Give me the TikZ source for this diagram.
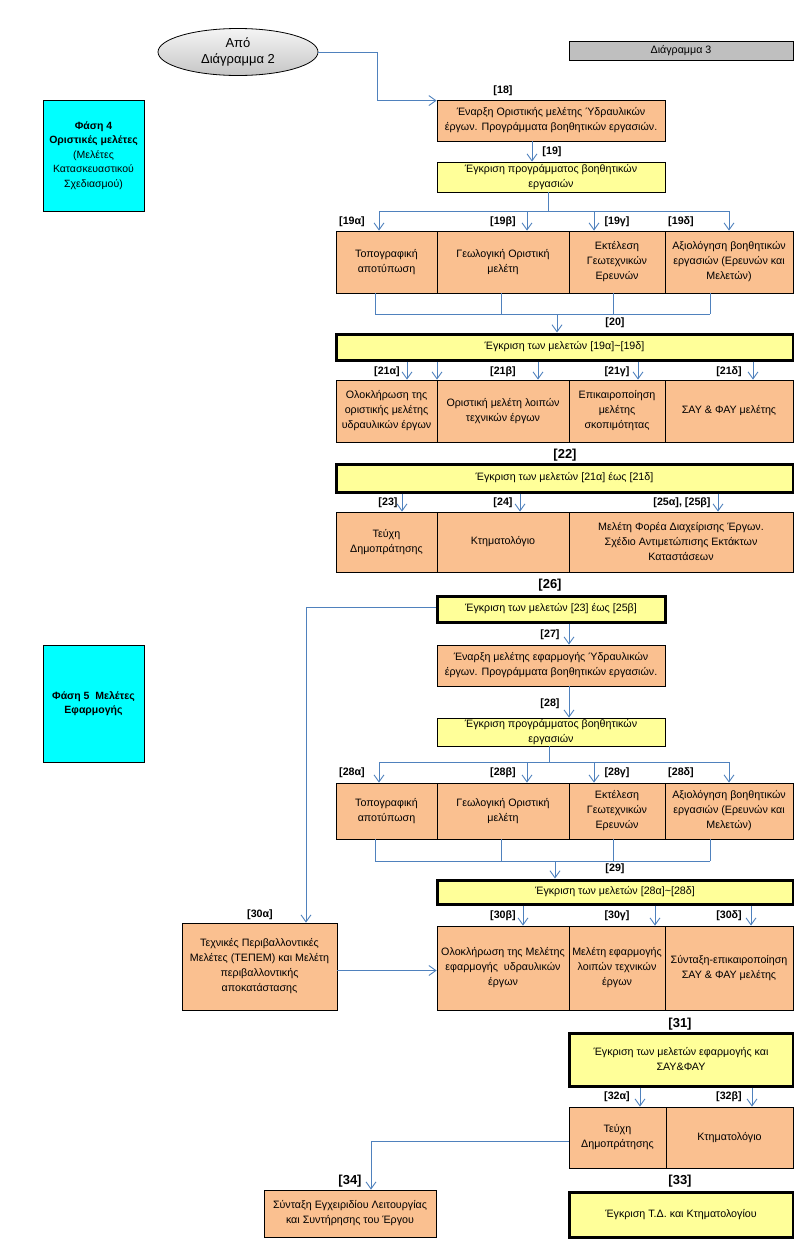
\documentclass[tikz,border=0pt]{standalone}
\usepackage{fontspec}
\setmainfont{Liberation Sans}
\usetikzlibrary{arrows.meta,shapes.geometric}
\definecolor{taskor}{RGB}{250,192,144}
\definecolor{apprye}{RGB}{255,255,153}
\definecolor{linkbl}{RGB}{79,129,189}
\definecolor{phasecy}{RGB}{0,255,255}
\definecolor{taggr}{RGB}{191,191,191}

\begin{document}
\begin{tikzpicture}[x=1pt, y=-1pt, line width=0.8pt,
  every node/.style={font=\fontsize{10.7}{15}\selectfont, inner sep=0pt},
  task/.style={draw, fill=taskor, align=center},
  appr/.style={draw, line width=3pt, fill=apprye, align=center},
  phase/.style={draw, fill=phasecy, align=center, minimum width=101pt,
    font=\fontsize{10.5}{14.5}\selectfont},
  lbl/.style={font=\fontsize{10.7}{12}\selectfont\bfseries},
  biglbl/.style={font=\fontsize{13}{15}\selectfont\bfseries},
  link/.style={draw=linkbl, line width=0.9pt},
  arr/.style={link, -{Straight Barb[length=7pt,width=10pt]}}]
  \useasboundingbox (0,0) rectangle (794,1245);

  % Headers and phases
  \node[draw, ellipse, top color=gray!8, bottom color=gray!45, minimum width=160pt,
    minimum height=47pt, align=center, font=\fontsize{13}{16}\selectfont] (e2) at (238,52) {Από\\Διάγραμμα 2};
  \node[draw, fill=taggr, minimum width=224pt, minimum height=19pt] (dia3) at (681,50.5) {Διάγραμμα 3};
  \node[phase, minimum height=111pt] (ph4) at (93.5,155.5)
    {\textbf{Φάση 4}\\\textbf{Οριστικές μελέτες}\\(Μελέτες\\Κατασκευαστικού\\Σχεδιασμού)};
  \node[phase, minimum height=117pt] (ph5) at (93.5,703.5) {\textbf{Φάση 5\ \ Μελέτες}\\\textbf{Εφαρμογής}};

  % Phase 4 boxes
  \node[task, minimum width=228pt, minimum height=41pt] (b18) at (551,120.5)
    {Έναρξη Οριστικής μελέτης Ύδραυλικών\\έργων. Προγράμματα βοηθητικών εργασιών.};
  \node[task, fill=apprye, minimum width=228pt, minimum height=30pt] (b19) at (551,177)
    {Έγκριση προγράμματος βοηθητικών\\εργασιών};
  \node[task, minimum width=101pt, minimum height=62pt] (r19a) at (386.5,262) {Τοπογραφική\\αποτύπωση};
  \node[task, minimum width=132pt, minimum height=62pt] (r19b) at (503,262) {Γεωλογική Οριστική\\μελέτη};
  \node[task, minimum width=96pt, minimum height=62pt] (r19c) at (617,262) {Εκτέλεση\\Γεωτεχνικών\\Ερευνών};
  \node[task, minimum width=128pt, minimum height=62pt] (r19d) at (729,262)
    {Αξιολόγηση βοηθητικών\\εργασιών (Ερευνών και\\Μελετών)};
  \node[appr, minimum width=457pt, minimum height=26pt] (b20) at (564.5,347) {Έγκριση των μελετών [19α]\textasciitilde[19δ]};
  \node[task, minimum width=101pt, minimum height=62pt] (r21a) at (386.5,411)
    {Ολοκλήρωση της\\οριστικής μελέτης\\υδραυλικών έργων};
  \node[task, minimum width=132pt, minimum height=62pt] (r21b) at (503,411) {Οριστική μελέτη λοιπών\\τεχνικών έργων};
  \node[task, minimum width=96pt, minimum height=62pt] (r21c) at (617,411) {Επικαιροποίηση\\μελέτης\\σκοπιμότητας};
  \node[task, minimum width=128pt, minimum height=62pt] (r21d) at (729,411) {ΣΑΥ \& ΦΑΥ μελέτης};
  \node[appr, minimum width=457pt, minimum height=28pt] (b22) at (564.5,478) {Έγκριση των μελετών [21α] έως [21δ]};
  \node[task, minimum width=101pt, minimum height=60pt] (r23) at (386.5,542) {Τεύχη\\Δημοπράτησης};
  \node[task, minimum width=132pt, minimum height=60pt] (r24) at (503,542) {Κτηματολόγιο};
  \node[task, minimum width=224pt, minimum height=60pt] (r25) at (681,542)
    {Μελέτη Φορέα Διαχείρισης Έργων.\\Σχέδιο Αντιμετώπισης Εκτάκτων\\Καταστάσεων};
  \node[appr, minimum width=228pt, minimum height=26pt] (b26) at (551,609) {Έγκριση των μελετών [23] έως [25β]};

  % Phase 5 boxes
  \node[task, minimum width=228pt, minimum height=41pt] (b27) at (551,665.5)
    {Έναρξη μελέτης εφαρμογής Ύδραυλικών\\έργων. Προγράμματα βοηθητικών εργασιών.};
  \node[task, fill=apprye, minimum width=228pt, minimum height=28pt] (b28) at (551,732)
    {Έγκριση προγράμματος βοηθητικών\\εργασιών};
  \node[task, minimum width=101pt, minimum height=56pt] (r28a) at (386.5,811) {Τοπογραφική\\αποτύπωση};
  \node[task, minimum width=132pt, minimum height=56pt] (r28b) at (503,811) {Γεωλογική Οριστική\\μελέτη};
  \node[task, minimum width=96pt, minimum height=56pt] (r28c) at (617,811) {Εκτέλεση\\Γεωτεχνικών\\Ερευνών};
  \node[task, minimum width=128pt, minimum height=56pt] (r28d) at (729,811)
    {Αξιολόγηση βοηθητικών\\εργασιών (Ερευνών και\\Μελετών)};
  \node[appr, minimum width=356pt, minimum height=24pt] (b29) at (615,892) {Έγκριση των μελετών [28α]\textasciitilde[28δ]};
  \node[task, minimum width=155pt, minimum height=87pt] (r30a) at (259.5,966.5)
    {Τεχνικές Περιβαλλοντικές\\Μελέτες (ΤΕΠΕΜ) και Μελέτη\\περιβαλλοντικής\\αποκατάστασης};
  \node[task, minimum width=132pt, minimum height=84pt] (r30b) at (503,968)
    {Ολοκλήρωση της Μελέτης\\εφαρμογής\ \ υδραυλικών\\έργων};
  \node[task, minimum width=96pt, minimum height=84pt] (r30c) at (617,968) {Μελέτη εφαρμογής\\λοιπών τεχνικών\\έργων};
  \node[task, minimum width=128pt, minimum height=84pt] (r30d) at (729,968)
    {Σύνταξη-επικαιροποίηση\\ΣΑΥ \& ΦΑΥ μελέτης};
  \node[appr, minimum width=224pt, minimum height=53pt] (b31) at (681,1059.5)
    {Έγκριση των μελετών εφαρμογής και\\ΣΑΥ\&ΦΑΥ};
  \node[task, minimum width=97pt, minimum height=61pt] (r32a) at (617.5,1137.5) {Τεύχη\\Δημοπράτησης};
  \node[task, minimum width=127pt, minimum height=61pt] (r32b) at (729.5,1137.5) {Κτηματολόγιο};
  \node[task, minimum width=172pt, minimum height=47pt] (b34) at (350,1213.5)
    {Σύνταξη Εγχειριδίου Λειτουργίας\\και Συντήρησης του Έργου};
  \node[appr, minimum width=224pt, minimum height=45pt] (b33) at (681,1214.5) {Έγκριση Τ.Δ. και Κτηματολογίου};

  % Step numbers
  \node[lbl] (l18) at (503,91) {[18]};
  \node[lbl] (l19) at (552,152) {[19]};
  \node[lbl] (l19a) at (352,222) {[19α]};
  \node[lbl] (l19b) at (503,222) {[19β]};
  \node[lbl] (l19c) at (617,222) {[19γ]};
  \node[lbl] (l19d) at (681,222) {[19δ]};
  \node[lbl] (l20) at (615,323) {[20]};
  \node[lbl] (l21a) at (387,372) {[21α]};
  \node[lbl] (l21b) at (503,372) {[21β]};
  \node[lbl] (l21c) at (617,372) {[21γ]};
  \node[lbl] (l21d) at (729,372) {[21δ]};
  \node[biglbl] (l22) at (565,455) {[22]};
  \node[lbl] (l23) at (388,503) {[23]};
  \node[lbl] (l24) at (503,503) {[24]};
  \node[lbl] (l25) at (682,503) {[25α], [25β]};
  \node[biglbl] (l26) at (550,585) {[26]};
  \node[lbl] (l27) at (550,635) {[27]};
  \node[lbl] (l28) at (550,704) {[28]};
  \node[lbl] (l28a) at (352,773) {[28α]};
  \node[lbl] (l28b) at (503,773) {[28β]};
  \node[lbl] (l28c) at (617,773) {[28γ]};
  \node[lbl] (l28d) at (681,773) {[28δ]};
  \node[lbl] (l29) at (615,869) {[29]};
  \node[lbl] (l30a) at (260,915) {[30α]};
  \node[lbl] (l30b) at (503,916) {[30β]};
  \node[lbl] (l30c) at (617,916) {[30γ]};
  \node[lbl] (l30d) at (729,916) {[30δ]};
  \node[biglbl] (l31) at (680,1024) {[31]};
  \node[lbl] (l32a) at (617,1097) {[32α]};
  \node[lbl] (l32b) at (729,1097) {[32β]};
  \node[biglbl] (l33) at (680,1181) {[33]};
  \node[biglbl] (l34) at (350,1181) {[34]};

  % Connectors, phase 4
  \coordinate (k18) at (377,52);
  \draw[arr] (e2.east) -- (k18) |- ([yshift=-1pt]b18.north west);
  \draw[arr] ([xshift=-19pt]b18.south) -- ([xshift=-19pt]b19.north);
  \coordinate (h19) at (548,211);
  \draw[link] ([xshift=-3pt]b19.south) -- (h19);
  \foreach \x/\n in {379/a,527/b,594/c,729/d}
    \coordinate (t19\n) at (\x,211);
  \draw[link] (t19a) -- (t19d);
  \foreach \n in {a,b,c,d}
    \draw[arr] (t19\n) -- (t19\n |- r19a.north);
  \foreach \x/\n in {375/a,501/b,613/c,710/d}
    \coordinate (m19\n) at (\x,314);
  \foreach \n in {a,b,c,d}
    \draw[link] (m19\n |- r19a.south) -- (m19\n);
  \draw[link] (m19a) -- (m19d);
  \coordinate (j20) at (557,314);
  \draw[arr] (j20) -- (j20 |- b20.north);
  \foreach \x in {407,437,538,638,753}{
    \coordinate (t21) at (\x,370);
    \draw[arr] (t21 |- b20.south) -- (t21 |- r21a.north);
  }
  \foreach \x in {402,520,718}{
    \coordinate (t23) at (\x,502);
    \draw[arr] (t23 |- b22.south) -- (t23 |- r23.north);
  }

  % Connectors, phase 5
  \coordinate (k30) at (306,607);
  \draw[arr] ([yshift=2pt]b26.west) -- (k30) -- (k30 |- r30a.north);
  \draw[arr] ([xshift=18pt]b26.south) -- ([xshift=18pt]b27.north);
  \draw[arr] ([xshift=18pt]b27.south) -- ([xshift=18pt]b28.north);
  \coordinate (h28) at (549,762);
  \draw[link] ([xshift=-2pt]b28.south) -- (h28);
  \foreach \x/\n in {379/a,527/b,594/c,729/d}
    \coordinate (t28\n) at (\x,762);
  \draw[link] (t28a) -- (t28d);
  \foreach \n in {a,b,c,d}
    \draw[arr] (t28\n) -- (t28\n |- r28a.north);
  \foreach \x/\n in {375/a,501/b,613/c,710/d}
    \coordinate (m28\n) at (\x,861);
  \foreach \n in {a,b,c,d}
    \draw[link] (m28\n |- r28a.south) -- (m28\n);
  \draw[link] (m28a) -- (m28d);
  \coordinate (j29) at (555,861);
  \draw[arr] (j29) -- (j29 |- b29.north);
  \foreach \x in {523,655,751}{
    \coordinate (t30) at (\x,915);
    \draw[arr] (t30 |- b29.south) -- (t30 |- r30b.north);
  }
  \draw[arr] ([yshift=-4pt]r30a.east) -- ([yshift=-4pt]r30a.east -| r30b.west);
  \foreach \x in {640,752}{
    \coordinate (t32) at (\x,1097);
    \draw[arr] (t32 |- b31.south) -- (t32 |- r32a.north);
  }
  \coordinate (k34) at (371,1141);
  \draw[arr] ([yshift=-3.5pt]r32a.west) -- (k34) -- (k34 |- b34.north);
\end{tikzpicture}
\end{document}
